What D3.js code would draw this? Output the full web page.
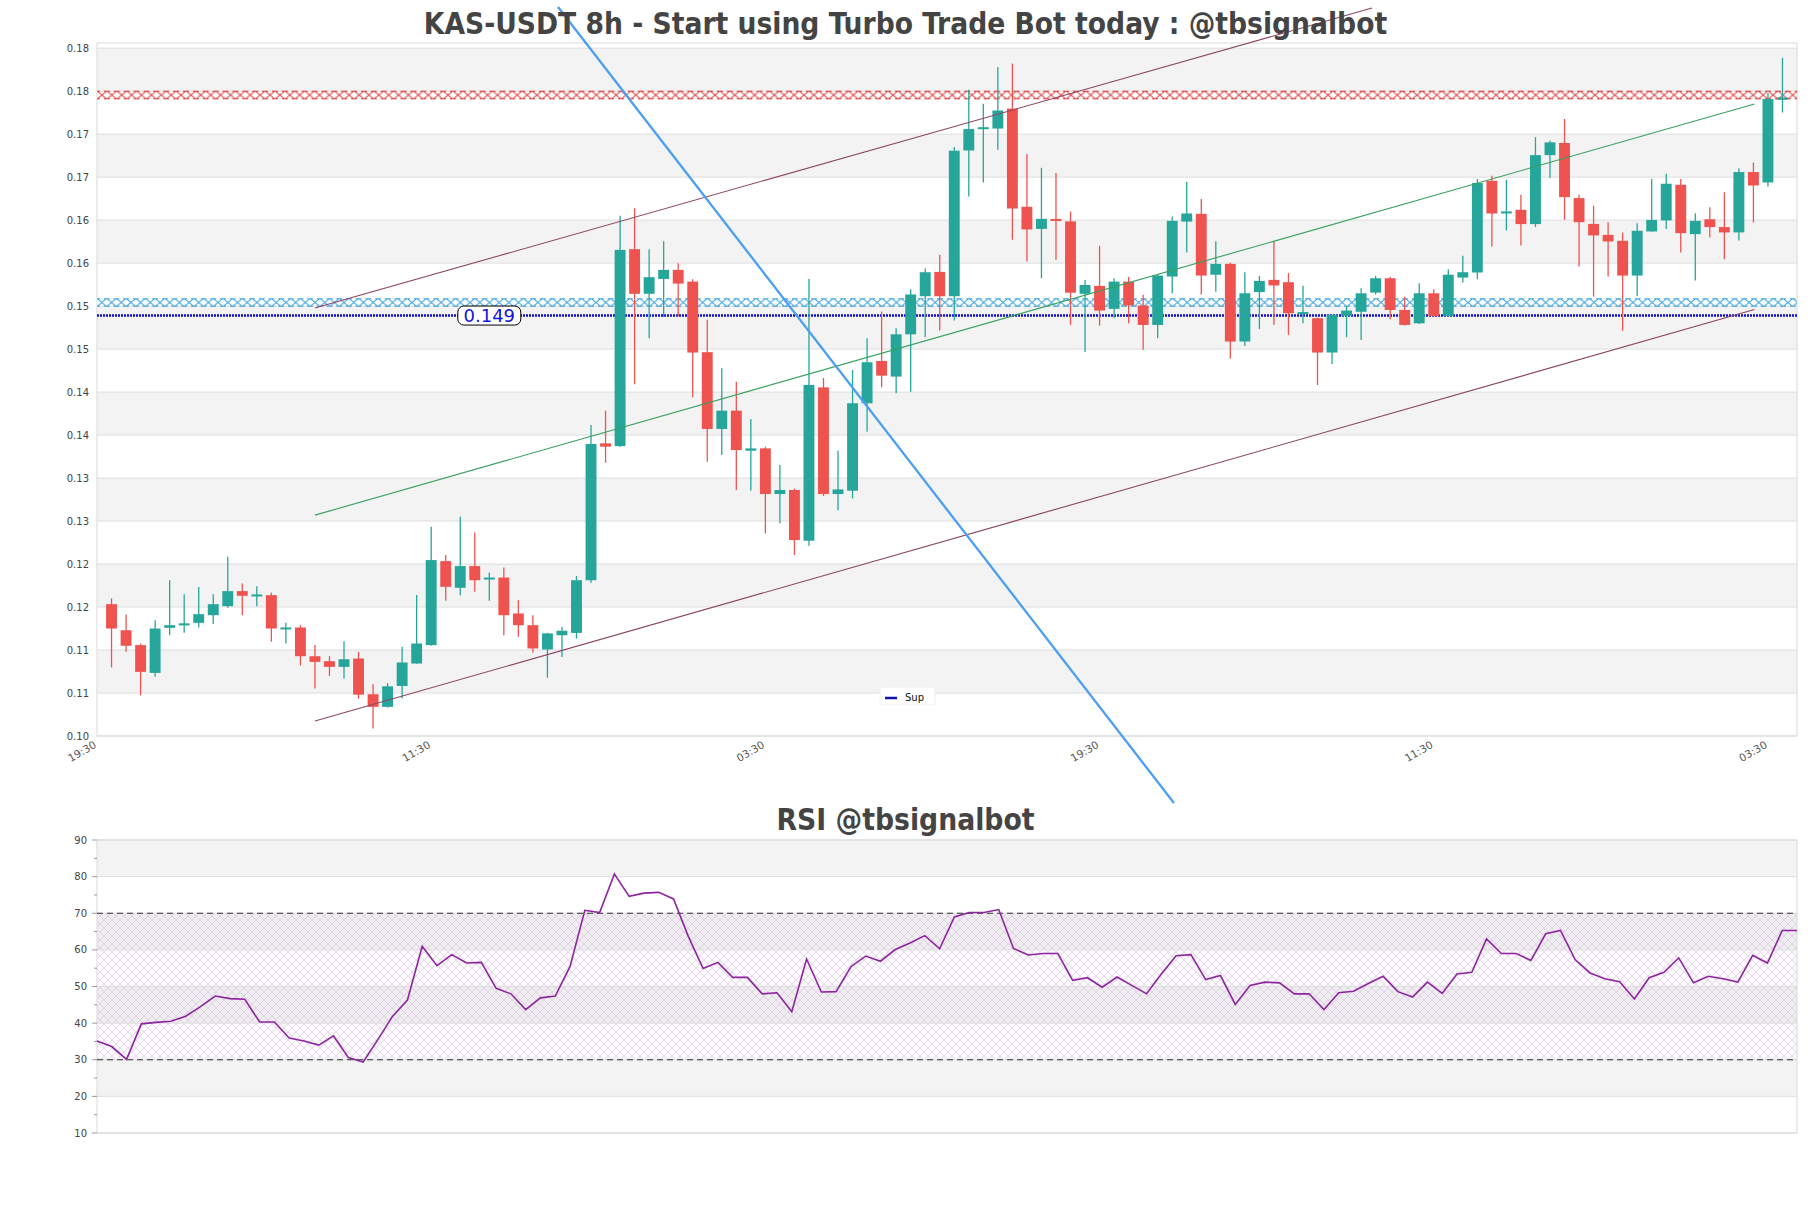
<!DOCTYPE html>
<html><head><meta charset="utf-8">
<script src="https://cdn.jsdelivr.net/npm/d3@7"></script>
<style>body{margin:0;background:#fff;} svg{display:block;}</style>
</head><body>
<svg id="c" width="1811" height="1208"></svg>
<script>
// ---------------- DATA ----------------
const opens  = [0.11533,0.11230,0.11057,0.10734,0.11258,0.11289,0.11316,0.11405,0.11510,0.11685,
0.11631,0.11638,0.11246,0.11262,0.10928,0.10870,0.10804,0.10901,0.10486,0.10339,
0.10582,0.10843,0.11057,0.12034,0.11724,0.11976,0.11820,0.11843,0.11425,0.11289,
0.11006,0.11172,0.11199,0.11812,0.13404,0.13372,0.15662,0.15143,0.15316,0.15421,
0.15285,0.14464,0.13571,0.13784,0.13318,0.13345,0.12814,0.12861,0.12271,0.14055,
0.12814,0.12853,0.13870,0.14362,0.14180,0.14672,0.15115,0.15398,0.15115,0.16810,
0.17059,0.17065,0.17297,0.16155,0.15898,0.16011,0.15985,0.15143,0.15235,0.14968,
0.15285,0.15007,0.14781,0.15344,0.15983,0.16073,0.15365,0.15491,0.14588,0.15163,
0.15305,0.15278,0.14914,0.14859,0.14460,0.14886,0.14934,0.15157,0.15324,0.14955,
0.14800,0.15149,0.14886,0.15332,0.15391,0.16458,0.16084,0.16120,0.15954,0.16756,
0.16897,0.16256,0.15956,0.15828,0.15759,0.15355,0.15868,0.15997,0.16411,0.15837,
0.16010,0.15919,0.15857,0.16559,0.16438,0.17400];
const highs  = [0.11600,0.11413,0.11076,0.11345,0.11812,0.11650,0.11734,0.11650,0.12084,0.11775,
0.11743,0.11667,0.11318,0.11290,0.11057,0.10928,0.11102,0.10979,0.10602,0.10615,
0.11037,0.11640,0.12434,0.12104,0.12551,0.12368,0.11902,0.11960,0.11580,0.11405,
0.11200,0.11269,0.11860,0.13617,0.13784,0.16050,0.16139,0.15662,0.15754,0.15499,
0.15311,0.14840,0.14277,0.14121,0.13687,0.13365,0.13151,0.12877,0.15314,0.14164,
0.13318,0.14258,0.14626,0.14937,0.14742,0.15197,0.15441,0.15596,0.16849,0.17517,
0.17354,0.17781,0.17820,0.16768,0.16608,0.16548,0.16100,0.15305,0.15701,0.15324,
0.15338,0.15131,0.15365,0.16042,0.16446,0.16247,0.15754,0.15503,0.15394,0.15351,
0.15754,0.15383,0.15236,0.14867,0.14898,0.14995,0.15209,0.15351,0.15338,0.15110,
0.15266,0.15197,0.15429,0.15585,0.16477,0.16516,0.16470,0.16295,0.16966,0.16927,
0.17176,0.16295,0.16166,0.15976,0.15854,0.15964,0.16477,0.16540,0.16477,0.16081,
0.16150,0.16325,0.16604,0.16670,0.17478,0.17886];
const lows   = [0.10797,0.10979,0.10475,0.10688,0.11172,0.11201,0.11262,0.11304,0.11492,0.11405,
0.11510,0.11097,0.11076,0.10820,0.10551,0.10699,0.10668,0.10433,0.10086,0.10330,
0.10436,0.10840,0.11049,0.11573,0.11638,0.11677,0.11573,0.11172,0.11154,0.10967,
0.10679,0.10920,0.11133,0.11782,0.13178,0.13361,0.14091,0.14626,0.14872,0.14881,
0.13939,0.13190,0.13267,0.12861,0.12853,0.12356,0.12474,0.12104,0.12213,0.12791,
0.12627,0.12763,0.13540,0.14055,0.13986,0.14005,0.14639,0.14715,0.14832,0.16275,
0.16438,0.16818,0.15771,0.15518,0.15324,0.15538,0.14781,0.14466,0.14773,0.14859,
0.14800,0.14491,0.14625,0.15149,0.15623,0.15135,0.15166,0.14391,0.14536,0.14733,
0.14781,0.14665,0.14800,0.14082,0.14327,0.14639,0.14606,0.15135,0.14847,0.14773,
0.14792,0.14871,0.14881,0.15275,0.15313,0.15693,0.15880,0.15705,0.15919,0.16489,
0.16003,0.15460,0.15110,0.15344,0.14712,0.15118,0.15868,0.15898,0.15623,0.15297,
0.15801,0.15545,0.15763,0.15972,0.16392,0.17252];
const closes = [0.11250,0.11049,0.10746,0.11250,0.11289,0.11308,0.11417,0.11533,0.11685,0.11631,
0.11638,0.11250,0.11256,0.10928,0.10862,0.10804,0.10893,0.10481,0.10339,0.10578,
0.10855,0.11076,0.12046,0.11735,0.11976,0.11812,0.11843,0.11405,0.11289,0.11018,
0.11193,0.11224,0.11812,0.13396,0.13365,0.15654,0.15143,0.15336,0.15421,0.15262,
0.14460,0.13571,0.13784,0.13326,0.13345,0.12814,0.12861,0.12279,0.14083,0.12814,
0.12868,0.13870,0.14347,0.14191,0.14672,0.15135,0.15394,0.15115,0.16807,0.17059,
0.17079,0.17275,0.16135,0.15892,0.16015,0.15993,0.15156,0.15246,0.14948,0.15285,
0.15007,0.14781,0.15355,0.15991,0.16077,0.15355,0.15491,0.14588,0.15149,0.15293,
0.15240,0.14917,0.14924,0.14460,0.14898,0.14948,0.15149,0.15324,0.14955,0.14781,
0.15149,0.14886,0.15365,0.15394,0.16431,0.16077,0.16095,0.15954,0.16756,0.16904,
0.16268,0.15976,0.15822,0.15752,0.15355,0.15876,0.16003,0.16423,0.15849,0.15991,
0.15919,0.15857,0.16559,0.16403,0.17408,0.17427];

const rsiValues = [35.1,33.6,30.1,39.8,40.2,40.5,41.9,44.5,47.4,46.7,
46.5,40.3,40.3,35.9,35.1,34.0,36.5,30.6,29.4,35.5,
41.9,46.3,61.0,55.7,58.7,56.4,56.6,49.5,48.0,43.7,
46.9,47.4,55.5,70.8,70.2,80.7,74.6,75.5,75.7,73.9,
63.7,54.9,56.6,52.5,52.5,48.0,48.3,43.1,57.5,48.5,
48.6,55.4,58.3,56.9,60.1,61.9,63.9,60.3,69.0,70.2,
70.2,71.0,60.4,58.6,59.0,59.0,51.7,52.4,49.8,52.6,
50.3,48.0,53.4,58.4,58.7,51.9,53.0,45.1,50.3,51.2,
51.0,48.0,48.0,43.7,48.3,48.7,50.8,52.8,48.6,47.1,
51.2,48.1,53.4,53.9,63.0,59.0,59.0,57.1,64.4,65.3,
57.3,53.7,52.1,51.3,46.6,52.4,53.9,57.8,51.0,52.8,
52.1,51.2,58.5,56.4,65.3,65.3];

const xTickIdx    = [-1, 22, 45, 68, 91, 114];
const xTickLabels = ["19:30","11:30","03:30","19:30","11:30","03:30"];
const priceTicks  = [0.100,0.105,0.110,0.115,0.120,0.125,0.130,0.135,0.140,0.145,0.150,0.155,0.160,0.165,0.170,0.175,0.180];
const priceTickLabels = ["0.10","0.11","0.11","0.12","0.12","0.13","0.13","0.14","0.14","0.15","0.15","0.16","0.16","0.17","0.17","0.18","0.18"];
const rsiTicks    = [10,20,30,40,50,60,70,80,90];
const rsiMinor    = [15,25,35,45,55,65,75,85];
const rsiLevels   = [30,70];

const resistanceBand = [0.17405, 0.17505];
const supportBand    = [0.14993, 0.15091];
const supLevel       = 0.1489;
const supLabelIdx    = 26;

const channelUpper = [[14, 0.14978], [86.75, 0.18467]];
const channelLower = [[14, 0.10174], [113.07, 0.14960]];
const channelMid   = [[14, 0.12569], [113.07, 0.17351]];
const blueTrend    = [[30.73, 0.18479], [73.12, 0.09221]];

const titleText = "KAS-USDT 8h - Start using Turbo Trade Bot today : @tbsignalbot";
const rsiTitle  = "RSI @tbsignalbot";

// ---------------- DRAW ----------------
const svg = d3.select("#c");
svg.append("rect").attr("width",1811).attr("height",1208).attr("fill","#fff");
const defs = svg.append("defs");

const L = 97, R = 1797;
const x  = d3.scaleLinear().domain([-1,116]).range([L,R]);
const y  = d3.scaleLinear().domain([0.1,0.1806]).range([736,43]);
const xr = d3.scaleLinear().domain([0,rsiValues.length-1]).range([L,R]);
const yr = d3.scaleLinear().domain([10,90]).range([1133,840]);

const font = "'DejaVu Sans', sans-serif";

// bands + grid main
const gMain = svg.append("g");
for (let i=0;i<priceTicks.length-1;i++){
  if (i%2===1) gMain.append("rect").attr("x",L).attr("width",R-L)
    .attr("y",y(priceTicks[i+1])).attr("height",y(priceTicks[i])-y(priceTicks[i+1])).attr("fill","#f3f3f3");
}
gMain.selectAll(".gl").data(priceTicks).enter().append("line")
  .attr("x1",L).attr("x2",R).attr("y1",d=>y(d)).attr("y2",d=>y(d))
  .attr("stroke","#dedede").attr("stroke-width",1);
gMain.append("rect").attr("x",L).attr("y",43).attr("width",R-L).attr("height",736-43)
  .attr("fill","none").attr("stroke","#d9d9d9").attr("stroke-width",1);

// hatched bands (X hatch, no solid border)
function xBand(id, color, band){
  const top = y(band[1]), h = y(band[0]) - y(band[1]);
  const w = h*1.15;
  const p = defs.append("pattern").attr("id",id).attr("patternUnits","userSpaceOnUse")
    .attr("x",L).attr("y",top).attr("width",w).attr("height",h);
  p.append("path").attr("d",`M0.5,0.5L${w-0.5},${h-0.5}M0.5,${h-0.5}L${w-0.5},0.5`)
    .attr("stroke",color).attr("stroke-width",1).attr("fill","none");
  p.append("path").attr("d",`M0,0.5H${w*0.3}M${w*0.7},0.5H${w}M0,${h-0.5}H${w*0.3}M${w*0.7},${h-0.5}H${w}`)
    .attr("stroke",color).attr("stroke-width",1).attr("fill","none");
  gMain.append("rect").attr("x",L).attr("width",R-L).attr("y",top).attr("height",h)
    .attr("fill",`url(#${id})`);
}
xBand("hatchRed","#e03a3a",resistanceBand);
xBand("hatchBlue","#2f9ee0",supportBand);

// sup line
gMain.append("line").attr("x1",L).attr("x2",R).attr("y1",y(supLevel)).attr("y2",y(supLevel))
  .attr("stroke","#1010c8").attr("stroke-width",2.5).attr("stroke-dasharray","2,1");

// candles
const idx = d3.range(opens.length);
const bw = (x(1)-x(0))*0.75;
const gC = svg.append("g");
idx.forEach(i=>{
  const up = closes[i] >= opens[i];
  const col = up ? "#26a69a" : "#ef5350";
  gC.append("line").attr("x1",x(i)).attr("x2",x(i)).attr("y1",y(highs[i])).attr("y2",y(lows[i]))
    .attr("stroke",col).attr("stroke-width",1.3);
  const t = y(Math.max(opens[i],closes[i])), b = y(Math.min(opens[i],closes[i]));
  const hh = Math.max(2, b-t);
  gC.append("rect").attr("x",x(i)-bw/2).attr("width",bw).attr("y",(t+b)/2-hh/2).attr("height",hh).attr("fill",col);
});

// trend lines
const lineGen = d3.line().x(d=>x(d[0])).y(d=>y(d[1]));
svg.append("path").attr("d",lineGen(channelUpper)).attr("stroke","#8c4563").attr("stroke-width",1.1).attr("fill","none");
svg.append("path").attr("d",lineGen(channelLower)).attr("stroke","#8c4563").attr("stroke-width",1.1).attr("fill","none");
svg.append("path").attr("d",lineGen(channelMid)).attr("stroke","#36a05c").attr("stroke-width",1.1).attr("fill","none");
svg.append("path").attr("d",lineGen(blueTrend)).attr("stroke","#4a9ff0").attr("stroke-width",2.3).attr("fill","none");

// sup label
const lblG = svg.append("g").attr("transform",`translate(${x(supLabelIdx)},${y(supLevel)})`);
lblG.append("rect").attr("x",-31.5).attr("y",-9.5).attr("width",63).attr("height",19).attr("rx",6)
  .attr("fill","#fff").attr("stroke","#000").attr("stroke-width",1);
lblG.append("text").attr("text-anchor","middle").attr("y",6.5).attr("font-family",font).attr("font-size",18)
  .attr("fill","#1414e0").text(supLevel.toFixed(3));

// legend
const lg = svg.append("g").attr("transform","translate(880,687)");
lg.append("rect").attr("width",55).attr("height",18).attr("rx",2).attr("fill","#fff").attr("stroke","#f0f0f0");
lg.append("line").attr("x1",5).attr("x2",17).attr("y1",11).attr("y2",11).attr("stroke","#1010b0").attr("stroke-width",2.5);
lg.append("text").attr("x",25).attr("y",14).attr("font-family",font).attr("font-size",10).attr("fill","#111").text("Sup");

// y tick labels main
svg.selectAll(".yl").data(priceTicks).enter().append("text")
  .attr("x",89).attr("y",d=>y(d)+3.5).attr("text-anchor","end")
  .attr("font-family",font).attr("font-size",10).attr("fill","#444")
  .text((d,i)=>priceTickLabels[i]);

// x tick labels
svg.selectAll(".xl").data(xTickIdx).enter().append("text")
  .attr("transform",d=>`translate(${x(d)},747) rotate(-30)`).attr("text-anchor","end")
  .attr("font-family",font).attr("font-size",10.5).attr("fill","#555")
  .text((d,i)=>xTickLabels[i]);

// titles
function fitTitle(txt, cy, targetW){
  const t = svg.append("text").attr("x",905.5).attr("y",cy).attr("text-anchor","middle")
    .attr("font-family","'DejaVu Sans Condensed','DejaVu Sans',sans-serif").attr("font-stretch","condensed")
    .attr("font-weight","bold").attr("font-size",27).attr("fill","#444").text(txt);
  const w = t.node().getComputedTextLength();
  if (w>0) t.attr("font-size", 27*targetW/w);
}
fitTitle(titleText, 34, 964);

// ---------------- RSI ----------------
const gR = svg.append("g");
for (let i=0;i<rsiTicks.length-1;i++){
  if (i%2===1) gR.append("rect").attr("x",L).attr("width",R-L)
    .attr("y",yr(rsiTicks[i+1])).attr("height",yr(rsiTicks[i])-yr(rsiTicks[i+1])).attr("fill","#f3f3f3");
}
const hp = defs.append("pattern").attr("id","rsiHatch").attr("patternUnits","userSpaceOnUse")
  .attr("width",8).attr("height",8);
hp.append("path").attr("d","M0,0L8,8M0,8L8,0").attr("stroke","#c0a8d0").attr("stroke-width",0.5).attr("fill","none").attr("opacity",0.75);
gR.append("rect").attr("x",L).attr("width",R-L).attr("y",yr(rsiLevels[1])).attr("height",yr(rsiLevels[0])-yr(rsiLevels[1]))
  .attr("fill","url(#rsiHatch)");
gR.append("rect").attr("x",L).attr("width",R-L).attr("y",yr(rsiLevels[1])).attr("height",yr(rsiLevels[0])-yr(rsiLevels[1]))
  .attr("fill","#b48cc8").attr("opacity",0.05);
gR.selectAll(".rg").data(rsiTicks).enter().append("line")
  .attr("x1",L).attr("x2",R).attr("y1",d=>yr(d)).attr("y2",d=>yr(d)).attr("stroke","#dedede");
gR.append("rect").attr("x",L).attr("y",yr(90)).attr("width",R-L).attr("height",yr(10)-yr(90))
  .attr("fill","none").attr("stroke","#d9d9d9");
gR.selectAll(".rl").data(rsiLevels).enter().append("line")
  .attr("x1",L).attr("x2",R).attr("y1",d=>yr(d)).attr("y2",d=>yr(d))
  .attr("stroke","#333").attr("stroke-width",1.2).attr("stroke-dasharray","6,4");
gR.selectAll(".rt").data(rsiTicks).enter().append("line")
  .attr("x1",L-5).attr("x2",L).attr("y1",d=>yr(d)).attr("y2",d=>yr(d)).attr("stroke","#999");
gR.selectAll(".rm").data(rsiMinor).enter().append("line")
  .attr("x1",L-3).attr("x2",L).attr("y1",d=>yr(d)).attr("y2",d=>yr(d)).attr("stroke","#999");
gR.selectAll(".rtl").data(rsiTicks).enter().append("text")
  .attr("x",87).attr("y",d=>yr(d)+3.5).attr("text-anchor","end")
  .attr("font-family",font).attr("font-size",10).attr("fill","#444").text(d=>d);
gR.append("path").attr("d",d3.line().x((d,i)=>xr(i)).y(d=>yr(d))(rsiValues))
  .attr("fill","none").attr("stroke","#8e24a0").attr("stroke-width",1.6);
fitTitle(rsiTitle, 830, 258);
</script>
</body></html>
